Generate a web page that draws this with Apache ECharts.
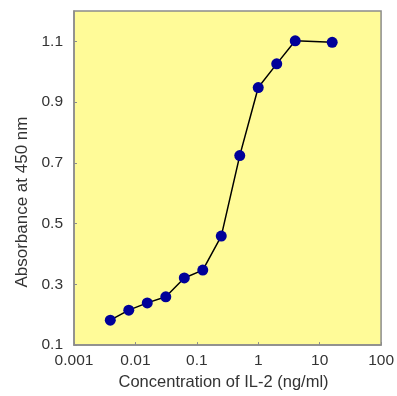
<!DOCTYPE html>
<html>
<head>
<meta charset="utf-8">
<script src="https://cdn.jsdelivr.net/npm/echarts@6/dist/echarts.min.js"></script>
<style>html,body{margin:0;padding:0;background:#fff;}#c{width:397px;height:396px;}</style>
</head>
<body>
<div id="c"></div>
<script>
const concentrations = [0.0039, 0.0078, 0.0156, 0.03125, 0.0625, 0.125, 0.25, 0.5, 1, 2, 4, 16];
const absorbance = [0.182, 0.215, 0.239, 0.259, 0.321, 0.347, 0.459, 0.724, 0.948, 1.026, 1.102, 1.097];
const xTickLabels = ['0.001', '0.01', '0.1', '1', '10', '100'];
const yTickLabels = ['0.1', '0.3', '0.5', '0.7', '0.9', '1.1'];

const chart = echarts.init(document.getElementById('c'), null, {renderer: 'canvas'});
const font = 'Liberation Sans, Arial, sans-serif';
chart.setOption({
  animation: false,
  grid: {left: 74, top: 11, right: 15, bottom: 50, show: true, backgroundColor: '#FFFB98', borderColor: '#8c8c8c', borderWidth: 1.5},
  xAxis: {
    type: 'log', logBase: 10, min: 0.001, max: 100,
    name: 'Concentration of IL-2 (ng/ml)', nameLocation: 'middle', nameGap: 27,
    nameTextStyle: {fontFamily: font, fontSize: 16.5, color: '#333', padding: [0, 8, 0, 0]},
    axisLine: {lineStyle: {color: '#8c8c8c', width: 1.5}},
    axisTick: {inside: true, length: 3, lineStyle: {color: '#8c8c8c'}},
    axisLabel: {fontFamily: font, fontSize: 15.5, color: '#333', margin: 8, formatter: (v, i) => xTickLabels[i] ?? ''},
    splitLine: {show: false}, minorTick: {show: false}
  },
  yAxis: {
    type: 'value', min: 0.1, max: 1.2, interval: 0.2,
    name: 'Absorbance at 450 nm', nameLocation: 'middle', nameGap: 40, nameRotate: 90,
    nameTextStyle: {fontFamily: font, fontSize: 17, color: '#333', padding: [0, 48, 0, 0]},
    axisLine: {show: true, lineStyle: {color: '#8c8c8c', width: 1.5}},
    axisTick: {show: true, inside: true, length: 3, lineStyle: {color: '#8c8c8c'}},
    axisLabel: {fontFamily: font, fontSize: 15.5, color: '#333', margin: 11, showMaxLabel: false,
      formatter: (v, i) => yTickLabels[i] ?? ''},
    splitLine: {show: false}
  },
  series: [{
    type: 'line',
    data: concentrations.map((c, i) => [c, absorbance[i]]),
    lineStyle: {color: '#000', width: 1.5},
    symbol: 'circle', symbolSize: 11,
    itemStyle: {color: '#000099'},
    z: 3
  }]
});
</script>
</body>
</html>
